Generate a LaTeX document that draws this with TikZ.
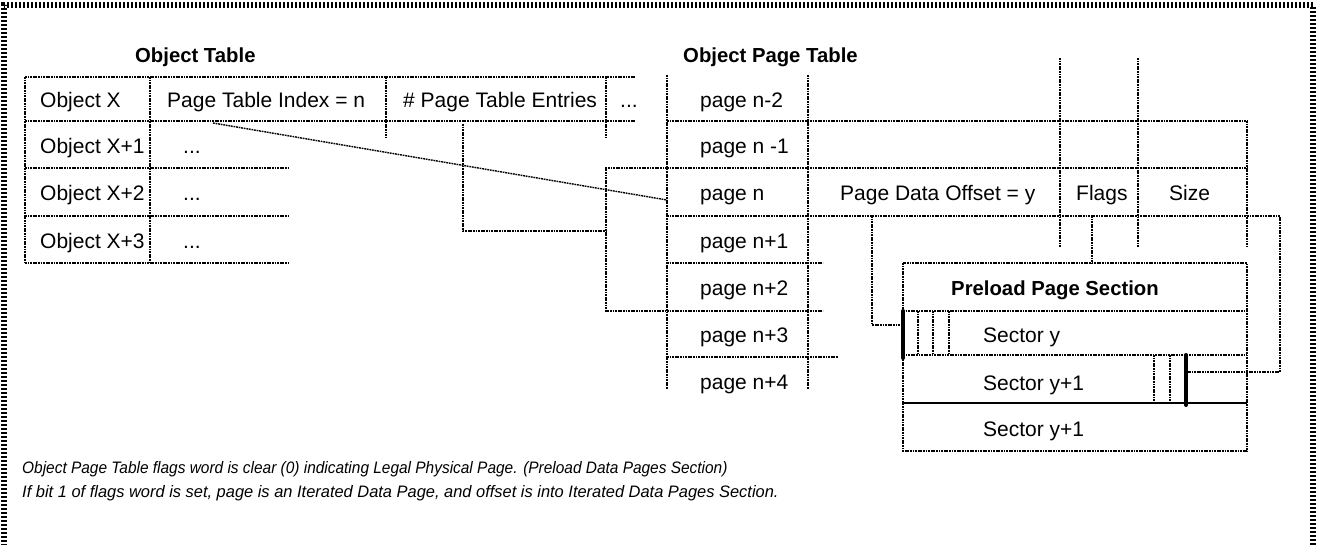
\documentclass[tikz,border=0pt]{standalone}
\usepackage{fontspec}
\setmainfont{Liberation Sans}
\usepackage{graphicx}
\begin{document}
\begin{tikzpicture}[x=1pt,y=-1pt,
  grid/.style={line width=1.4pt, dash pattern=on 1.8pt off 0.8pt},
  solidrule/.style={line width=1.7pt},
  bar/.style={line width=4pt, line cap=round},
  cell/.style={inner sep=0pt, anchor=base west, font=\fontsize{21}{25}\selectfont},
  ctitle/.style={inner sep=0pt, anchor=base west, font=\fontsize{20.3}{24}\selectfont\bfseries},
  note/.style={inner sep=0pt, anchor=base west, font=\fontsize{16.6}{20}\selectfont\itshape},
  frame/.style={line width=5.5pt, dash pattern=on 2pt off 2pt}]

\useasboundingbox (0,0) rectangle (1322,544);

% page frame
\draw[frame] (4,550) -- (4,5) -- (1313,5) -- (1313,550);

% ---------- Object Table ----------
\node[ctitle] (ottitle) at (135,62) {Object Table};
\draw[grid] (25,77) -- (635,77);
\draw[grid] (25,121) -- (635,121);
\foreach \y in {168,216,263} \draw[grid] (25,\y) -- (290,\y);
\draw[grid] (25,77) -- (25,263);
\draw[grid] (150,77) -- (150,263);
\draw[grid] (386,77) -- (386,137);
\draw[grid] (606,77) -- (606,137);

\node[cell] (objx)  at (40,107) {Object X};
\node[cell] (objx1) at (40,153) {Object X+1};
\node[cell] (objx2) at (40,200) {Object X+2};
\node[cell] (objx3) at (40,248) {Object X+3};
\node[cell] (ptidx) at (167,107) {Page Table Index = n};
\node[cell] (ptent) at (403,107) {\# Page Table Entries};
\node[cell] (more)  at (620,107) {...};
\node[cell] (dots1) at (183,153) {...};
\node[cell] (dots2) at (183,200) {...};
\node[cell] (dots3) at (183,248) {...};

% ---------- Object Page Table ----------
\node[ctitle] (opttitle) at (683,62) {Object Page Table};
\draw[grid] (667,75) -- (667,389);
\draw[grid] (808,75) -- (808,389);
\draw[grid] (1060,58) -- (1060,247);
\draw[grid] (1138,58) -- (1138,247);
\draw[grid] (1247,121) -- (1247,247);
\draw[grid] (667,121) -- (1247,121);
\draw[grid] (667,168) -- (1247,168);
\draw[grid] (667,216) -- (1247,216);
\draw[grid] (667,263) -- (823,263);
\draw[grid] (667,311) -- (823,311);
\draw[grid] (667,357) -- (838,357);

\node[cell] (pm2) at (700,107) {page n-2};
\node[cell] (pm1) at (700,153) {page n -1};
\node[cell] (pn)  at (700,200) {page n};
\node[cell] (pp1) at (700,248) {page n+1};
\node[cell] (pp2) at (700,295) {page n+2};
\node[cell] (pp3) at (700,342) {page n+3};
\node[cell] (pp4) at (700,389) {page n+4};
\node[cell] (offset) at (840,200) {Page Data Offset = y};
\node[cell] (flags)  at (1076,200) {Flags};
\node[cell] (size)   at (1169,200) {Size};

% ---------- Preload Page Section ----------
\draw[grid] (903,263) rectangle (1247,451);
\draw[grid] (903,311) -- (1247,311);
\draw[grid] (903,355) -- (1247,355);
\draw[solidrule] (903,403) -- (1247,403);
\foreach \x in {918,933,949} \draw[grid] (\x,311) -- (\x,355);
\foreach \x in {1154,1170} \draw[grid] (\x,355) -- (\x,403);

\node[ctitle] (pltitle) at (951,295) {Preload Page Section};
\node[cell] (secy)  at (983,342) {Sector y};
\node[cell] (secy1) at (983,390) {Sector y+1};
\node[cell] (secy2) at (983,436) {Sector y+1};

% connector end points
\coordinate (idxfoot)  at (213,123);
\coordinate (pnleft)   at (667,200);
\coordinate (entfoot)  at (463,124);
\coordinate (pntop)    at (667,168);
\coordinate (pp2foot)  at (667,311);
\coordinate (offfoot)  at (872,216);
\coordinate (secystart) at (903,325);
\coordinate (flagfoot) at (1092,216);
\coordinate (pltop)    at (1092,263);
\coordinate (sizefoot) at (1247,216);
\coordinate (secyend)  at (1188,372);

% ---------- connectors ----------
\draw[grid] (idxfoot) -- (pnleft);
\draw[grid] (entfoot) -- (463,231) -- (606,231);
\draw[grid] (pntop) -- (606,168) -- (606,311) -- (pp2foot);
\draw[grid] (offfoot) -- (872,325) -- (secystart);
\draw[grid] (flagfoot) -- (pltop);
\draw[grid] (sizefoot) -- (1280,216) -- (1280,372) -- (secyend);

% sector boundary marks
\draw[bar] (903,311) -- (903,358);
\draw[bar] (1186,355) -- (1186,405);

% ---------- notes ----------
\node[note] (note1) at (22,473) {\scalebox{0.93}[1]{Object Page Table flags word is clear (0) indicating Legal Physical Page. (Preload Data Pages Section)}};
\node[note] (note2) at (22,497) {\scalebox{0.99}[1]{If bit 1 of flags word is set, page is an Iterated Data Page, and offset is into Iterated Data Pages Section.}};
\end{tikzpicture}
\end{document}
